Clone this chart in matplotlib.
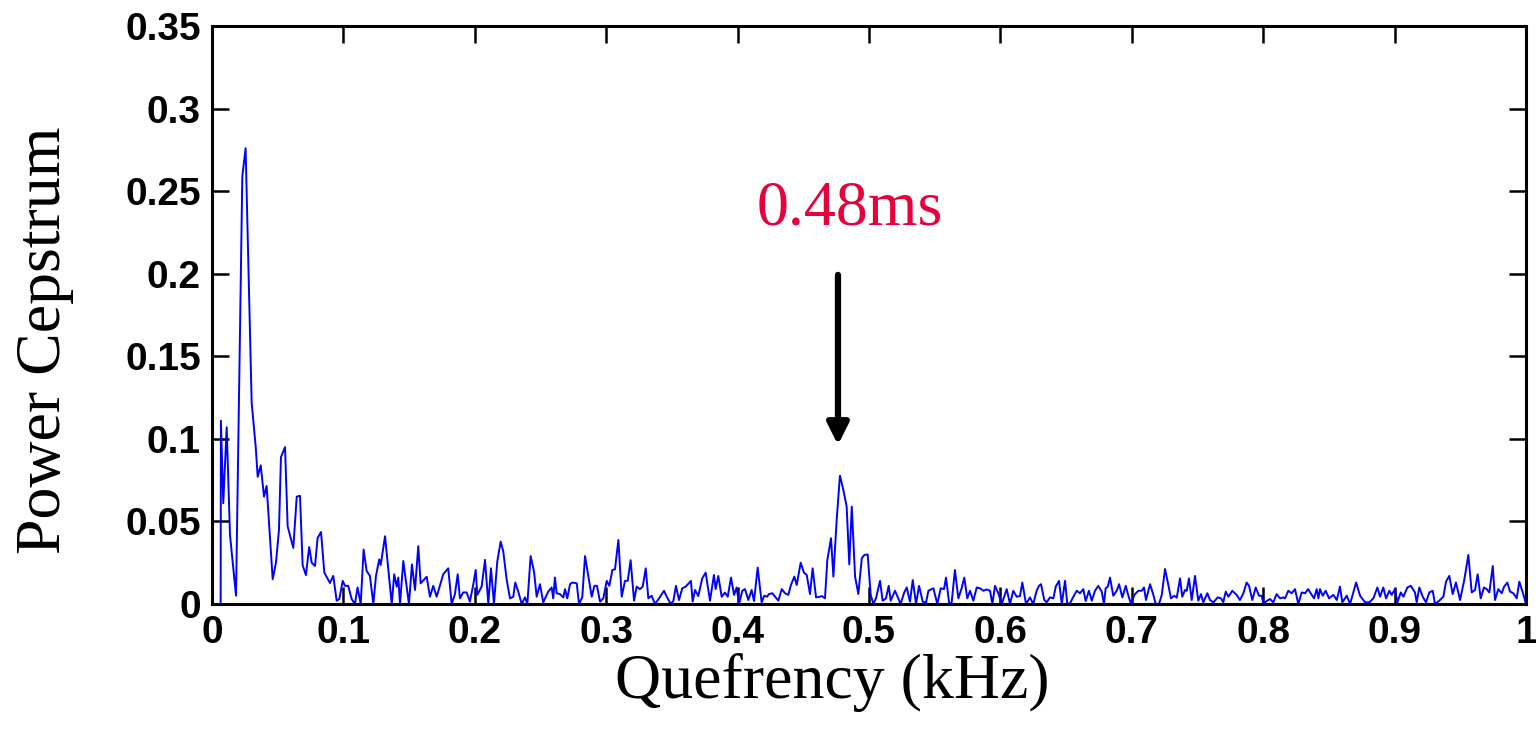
import matplotlib
matplotlib.use("Agg")
import matplotlib.pyplot as plt
from matplotlib.ticker import FuncFormatter

# ---------------------------------------------------------------------------
# Data
# ---------------------------------------------------------------------------
quefrency = [
    0.0, 0.0066, 0.0068, 0.0086, 0.0112, 0.0137, 0.0183, 0.0231, 0.0256, 0.0302,
    0.0333, 0.0348, 0.0371, 0.0396, 0.0416, 0.0462, 0.0487, 0.0510, 0.0525, 0.0556,
    0.0576, 0.0619, 0.0645, 0.0670, 0.0690, 0.0715, 0.0740, 0.0759, 0.0784, 0.0804,
    0.0830, 0.0855, 0.0898, 0.0923, 0.0949, 0.0969, 0.0995, 0.1012, 0.1037, 0.1063,
    0.1088, 0.1108, 0.1132, 0.1154, 0.1177, 0.1202, 0.1228, 0.1248, 0.1273, 0.1284,
    0.1317, 0.1368, 0.1387, 0.1406, 0.1418, 0.1431, 0.1456, 0.1499, 0.1522, 0.1545,
    0.1570, 0.1588, 0.1634, 0.1659, 0.1684, 0.1710, 0.1760, 0.1798, 0.1824, 0.1849,
    0.1870, 0.1887, 0.1912, 0.1938, 0.1963, 0.1989, 0.2007, 0.2019, 0.2052, 0.2078,
    0.2103, 0.2123, 0.2146, 0.2171, 0.2197, 0.2217, 0.2243, 0.2268, 0.2293, 0.2308,
    0.2331, 0.2357, 0.2382, 0.2400, 0.2425, 0.2451, 0.2471, 0.2496, 0.2521, 0.2559,
    0.2585, 0.2597, 0.2610, 0.2623, 0.2648, 0.2674, 0.2687, 0.2704, 0.2725, 0.2742,
    0.2776, 0.2793, 0.2818, 0.2839, 0.2864, 0.2890, 0.2910, 0.2930, 0.2953, 0.2978,
    0.3004, 0.3024, 0.3047, 0.3067, 0.3093, 0.3118, 0.3143, 0.3164, 0.3186, 0.3212,
    0.3232, 0.3257, 0.3278, 0.3301, 0.3321, 0.3346, 0.3371, 0.3402, 0.3440, 0.3461,
    0.3491, 0.3511, 0.3531, 0.3554, 0.3579, 0.3605, 0.3645, 0.3658, 0.3676, 0.3701,
    0.3731, 0.3757, 0.3790, 0.3820, 0.3833, 0.3853, 0.3879, 0.3904, 0.3925, 0.3950,
    0.3973, 0.3993, 0.4011, 0.4036, 0.4056, 0.4082, 0.4107, 0.4125, 0.4153, 0.4183,
    0.4203, 0.4224, 0.4239, 0.4264, 0.4285, 0.4310, 0.4336, 0.4361, 0.4386, 0.4406,
    0.4432, 0.4450, 0.4480, 0.4505, 0.4526, 0.4551, 0.4571, 0.4597, 0.4627, 0.4642,
    0.4665, 0.4683, 0.4711, 0.4729, 0.4754, 0.4779, 0.4805, 0.4830, 0.4850, 0.4869,
    0.4894, 0.4919, 0.4945, 0.4965, 0.4990, 0.5013, 0.5033, 0.5053, 0.5084, 0.5104,
    0.5129, 0.5150, 0.5165, 0.5198, 0.5241, 0.5266, 0.5287, 0.5312, 0.5333, 0.5358,
    0.5381, 0.5409, 0.5434, 0.5452, 0.5490, 0.5520, 0.5546, 0.5571, 0.5586, 0.5611,
    0.5629, 0.5654, 0.5680, 0.5705, 0.5725, 0.5748, 0.5769, 0.5794, 0.5820, 0.5845,
    0.5870, 0.5896, 0.5921, 0.5939, 0.5959, 0.5984, 0.6010, 0.6048, 0.6073, 0.6098,
    0.6124, 0.6149, 0.6167, 0.6195, 0.6225, 0.6250, 0.6276, 0.6294, 0.6309, 0.6334,
    0.6352, 0.6377, 0.6403, 0.6421, 0.6446, 0.6467, 0.6492, 0.6509, 0.6530, 0.6555,
    0.6581, 0.6606, 0.6631, 0.6649, 0.6674, 0.6695, 0.6720, 0.6745, 0.6771, 0.6788,
    0.6801, 0.6817, 0.6834, 0.6859, 0.6885, 0.6903, 0.6928, 0.6954, 0.6974, 0.6994,
    0.7019, 0.7050, 0.7075, 0.7093, 0.7108, 0.7139, 0.7164, 0.7182, 0.7207, 0.7228,
    0.7253, 0.7278, 0.7298, 0.7323, 0.7342, 0.7367, 0.7384, 0.7405, 0.7418, 0.7435,
    0.7456, 0.7481, 0.7506, 0.7527, 0.7544, 0.7575, 0.7595, 0.7621, 0.7654, 0.7679,
    0.7696, 0.7715, 0.7735, 0.7765, 0.7798, 0.7823, 0.7849, 0.7874, 0.7892, 0.7917,
    0.7943, 0.7968, 0.7989, 0.8001, 0.8026, 0.8052, 0.8077, 0.8102, 0.8128, 0.8153,
    0.8166, 0.8191, 0.8217, 0.8242, 0.8267, 0.8293, 0.8318, 0.8343, 0.8361, 0.8387,
    0.8407, 0.8420, 0.8432, 0.8453, 0.8476, 0.8501, 0.8534, 0.8560, 0.8584, 0.8602,
    0.8636, 0.8661, 0.8707, 0.8737, 0.8775, 0.8808, 0.8838, 0.8869, 0.8889, 0.8914,
    0.8935, 0.8960, 0.8978, 0.9003, 0.9021, 0.9047, 0.9067, 0.9097, 0.9123, 0.9155,
    0.9168, 0.9188, 0.9214, 0.9239, 0.9264, 0.9290, 0.9307, 0.9340, 0.9371, 0.9391,
    0.9416, 0.9442, 0.9467, 0.9498, 0.9530, 0.9561, 0.9587, 0.9612, 0.9632, 0.9655,
    0.9680, 0.9701, 0.9721, 0.9747, 0.9764, 0.9789, 0.9815, 0.9833, 0.9858, 0.9878,
    0.9904, 0.9929, 0.9949, 0.9975, 1.0,
]
cepstrum = [
    0.0, 0.0, 0.111, 0.061, 0.107, 0.042, 0.005, 0.259, 0.276, 0.122,
    0.095, 0.077, 0.084, 0.065, 0.0715, 0.015, 0.025, 0.045, 0.089, 0.095,
    0.047, 0.034, 0.065, 0.0655, 0.0235, 0.0175, 0.0345, 0.025, 0.023, 0.040,
    0.0436, 0.019, 0.0127, 0.017, 0.002, 0.003, 0.014, 0.011, 0.011, 0.003,
    0.0, 0.010, 0.0, 0.033, 0.020, 0.017, 0.0, 0.017, 0.027, 0.0236,
    0.041, 0.0, 0.018, 0.0105, 0.016, 0.0, 0.026, 0.0, 0.024, 0.0085,
    0.035, 0.0125, 0.0165, 0.0044, 0.011, 0.0044, 0.018, 0.0216, 0.0, 0.006,
    0.018, 0.0034, 0.007, 0.007, 0.0014, 0.012, 0.0206, 0.0055, 0.0105, 0.0267,
    0.0, 0.0216, 0.0, 0.0256, 0.0378, 0.0317, 0.0145, 0.0034, 0.0044, 0.013,
    0.0075, 0.0, 0.004, 0.0, 0.029, 0.0196, 0.0044, 0.012, 0.001, 0.0075,
    0.010, 0.0034, 0.016, 0.0065, 0.006, 0.004, 0.009, 0.0034, 0.012, 0.013,
    0.0125, 0.0, 0.004, 0.029, 0.017, 0.0044, 0.011, 0.011, 0.0014, 0.0034,
    0.014, 0.011, 0.0206, 0.021, 0.0388, 0.0044, 0.014, 0.014, 0.0265, 0.002,
    0.0105, 0.009, 0.0105, 0.0216, 0.0034, 0.005, 0.0, 0.0034, 0.008, 0.0044,
    0.0, 0.0018, 0.011, 0.0024, 0.0095, 0.0105, 0.014, 0.0014, 0.0085, 0.0048,
    0.0155, 0.019, 0.002, 0.0176, 0.009, 0.017, 0.0044, 0.0069, 0.0044, 0.016,
    0.0055, 0.010, 0.0, 0.008, 0.009, 0.0024, 0.0085, 0.0018, 0.022, 0.001,
    0.005, 0.0044, 0.006, 0.0065, 0.0044, 0.002, 0.009, 0.0065, 0.0055, 0.0115,
    0.0166, 0.0115, 0.025, 0.019, 0.0176, 0.006, 0.0216, 0.004, 0.0044, 0.0048,
    0.0034, 0.0267, 0.0398, 0.0166, 0.0509, 0.0777, 0.069, 0.059, 0.024, 0.059,
    0.0166, 0.006, 0.0277, 0.0297, 0.030, 0.0055, 0.0, 0.0034, 0.014, 0.002,
    0.0034, 0.011, 0.002, 0.008, 0.0, 0.0065, 0.010, 0.0014, 0.0145, 0.0,
    0.011, 0.0014, 0.0008, 0.008, 0.0095, 0.0, 0.0095, 0.009, 0.016, 0.0,
    0.0008, 0.0206, 0.0034, 0.0095, 0.016, 0.0034, 0.008, 0.002, 0.010, 0.0095,
    0.008, 0.0088, 0.008, 0.0, 0.011, 0.0065, 0.0, 0.009, 0.0, 0.008,
    0.0044, 0.0048, 0.013, 0.0, 0.004, 0.0, 0.008, 0.011, 0.012, 0.0024,
    0.001, 0.004, 0.0034, 0.0105, 0.014, 0.0, 0.014, 0.0, 0.0004, 0.0044,
    0.008, 0.0065, 0.009, 0.0018, 0.008, 0.002, 0.008, 0.011, 0.0075, 0.0,
    0.0095, 0.0105, 0.016, 0.005, 0.008, 0.012, 0.004, 0.011, 0.005, 0.0,
    0.0055, 0.008, 0.008, 0.010, 0.0024, 0.012, 0.0055, 0.0, 0.0, 0.0055,
    0.0212, 0.0115, 0.0034, 0.005, 0.0038, 0.0155, 0.0044, 0.0085, 0.0079, 0.0155,
    0.0024, 0.017, 0.002, 0.006, 0.001, 0.0065, 0.0024, 0.001, 0.004, 0.0034,
    0.001, 0.0075, 0.0044, 0.008, 0.0055, 0.0024, 0.0065, 0.013, 0.011, 0.0024,
    0.010, 0.005, 0.005, 0.0, 0.0018, 0.003, 0.001, 0.006, 0.0034, 0.004,
    0.0034, 0.008, 0.0065, 0.009, 0.0, 0.007, 0.0065, 0.009, 0.0065, 0.0034,
    0.009, 0.0034, 0.009, 0.005, 0.008, 0.0034, 0.0055, 0.0024, 0.0105, 0.001,
    0.005, 0.0, 0.013, 0.005, 0.001, 0.001, 0.0034, 0.010, 0.0044, 0.010,
    0.0034, 0.008, 0.0055, 0.009, 0.001, 0.007, 0.0044, 0.010, 0.011, 0.007,
    0.001, 0.010, 0.0044, 0.001, 0.007, 0.008, 0.0, 0.002, 0.0044, 0.0135,
    0.017, 0.006, 0.013, 0.0024, 0.0145, 0.0297, 0.007, 0.0085, 0.018, 0.0034,
    0.010, 0.009, 0.007, 0.023, 0.0024, 0.009, 0.0065, 0.0105, 0.013, 0.0075,
    0.0065, 0.0034, 0.0135, 0.007, 0.0,
]

x_ticks = [0, 0.1, 0.2, 0.3, 0.4, 0.5, 0.6, 0.7, 0.8, 0.9, 1]
y_ticks = [0, 0.05, 0.1, 0.15, 0.2, 0.25, 0.3, 0.35]

peak_x = 0.4764          # arrow position (0.48 ms peak)
arrow_from, arrow_to = 0.1993, 0.0963
label_text = "0.48ms"


# ---------------------------------------------------------------------------
# Plot
# ---------------------------------------------------------------------------
def matlab_fmt(v, _pos):
    return f"{v:.2f}".rstrip("0").rstrip(".")


fig = plt.figure(figsize=(15.36, 7.39), dpi=100)
ax = fig.add_axes([0.138, 0.1827, 0.8555, 0.7821])

ax.plot(quefrency, cepstrum, color="#0000FF", linewidth=1.4)

ax.set_xlim(0, 1)
ax.set_ylim(0, 0.35)
ax.set_xticks(x_ticks)
ax.set_yticks(y_ticks)
ax.xaxis.set_major_formatter(FuncFormatter(matlab_fmt))
ax.yaxis.set_major_formatter(FuncFormatter(matlab_fmt))

for lab in ax.get_xticklabels() + ax.get_yticklabels():
    lab.set_fontfamily("Liberation Sans")
    lab.set_fontweight("bold")
    lab.set_fontsize(28)

ax.tick_params(direction="in", length=12, width=1.8, top=True, right=True,
               pad=8)
for sp in ax.spines.values():
    sp.set_linewidth(2.2)

label_font = {"family": "Liberation Serif", "size": 46}
ax.set_xlabel("Quefrency (kHz)", fontdict=label_font, va="center")
ax.set_ylabel("Power Cepstrum", fontdict=label_font, va="center")
ax.xaxis.set_label_coords(0.4718, -0.1367)
ax.yaxis.set_label_coords(-0.127, 0.4567)

ax.annotate("", xy=(peak_x, arrow_to), xytext=(peak_x, arrow_from),
            arrowprops=dict(arrowstyle="-|>", color="black", lw=4.5,
                            mutation_scale=32, shrinkA=0, shrinkB=0))
ax.text(0.4855, 0.2386, label_text, color="#E8003C", ha="center", va="center",
        fontfamily="Liberation Serif", fontsize=46)

fig.savefig("out.png", dpi=100)
